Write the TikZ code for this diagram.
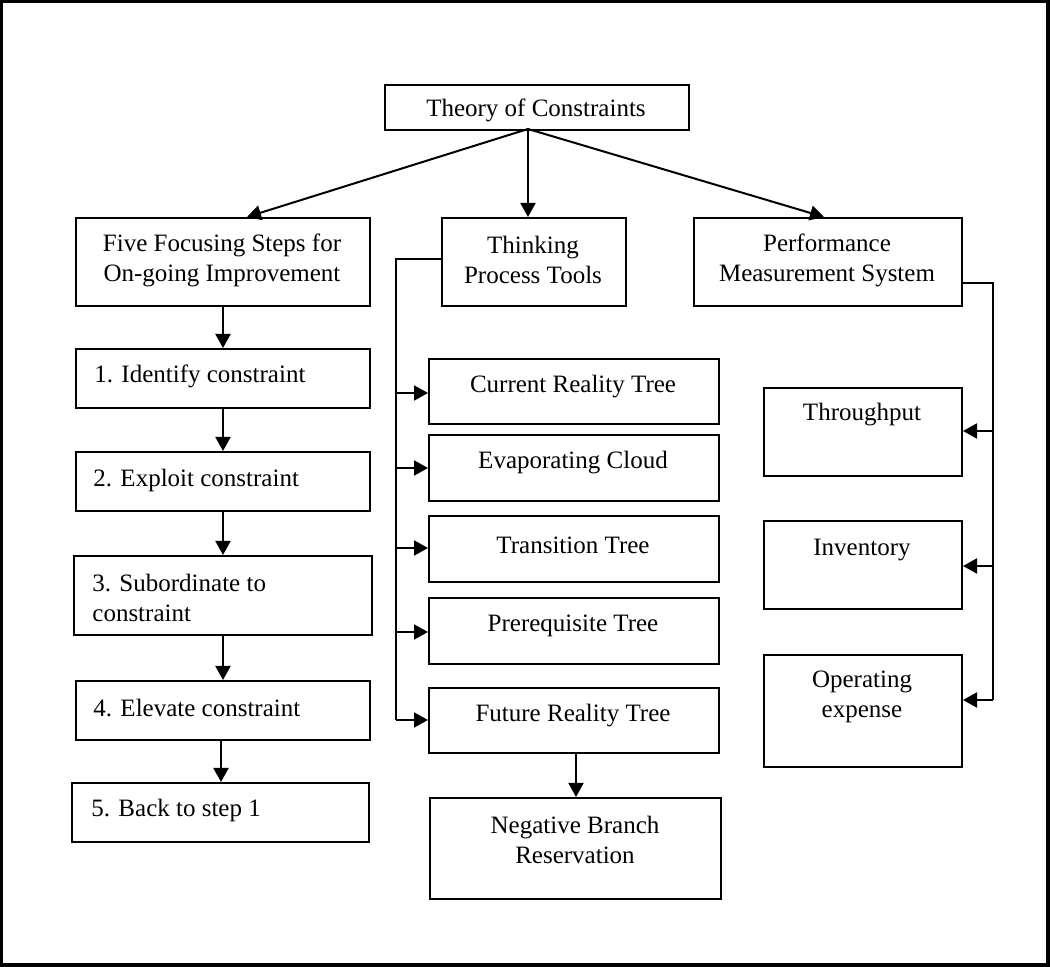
\documentclass[tikz,border=0pt]{standalone}
\usepackage{fontspec}
\setmainfont{Liberation Serif}
\usetikzlibrary{arrows.meta}

% a box given by its top-left and bottom-right corners (in pixel units)
\newcommand\pbox[5]{%
  \node[box, minimum width={0.5pt*(#4-#2)}, minimum height={0.5pt*(#5-#3)}] (#1) at (#2,#3) {};}

\begin{document}
\begin{tikzpicture}[
  x=0.5pt, y=-0.5pt,
  box/.style={draw, line width=1pt, inner sep=0pt, anchor=north west},
  txt/.style={inner sep=0pt, align=center, yshift=-1.5pt, font=\fontsize{12.5}{15}\selectfont},
  ltxt/.style={txt, align=left, anchor=west},
  conn/.style={line width=1pt},
  arr/.style={conn, -{Triangle[length=7pt, width=7.5pt]}},
]
\useasboundingbox (0,0) rectangle (1050,967);
\draw[line width=2pt] (1,1) rectangle (1048,965);

% top level
\pbox{root}{384}{84}{688}{129}
\node[txt] (root-t) at (536,107) {Theory of Constraints};

\pbox{five}{75}{217}{369}{305}
\node[txt] (five-t) at (222,257) {Five Focusing Steps for\\On-going Improvement};
\pbox{think}{441}{217}{625}{305}
\node[txt] (think-t) at (533,257) {Thinking\\Process Tools};
\pbox{perf}{693}{217}{961}{305}
\node[txt] (perf-t) at (827,257) {Performance\\Measurement System};

\coordinate (fork) at (528,129);
\coordinate (fiveIn) at (247,217);
\coordinate (perfIn) at (824,217);
\draw[arr] (fork) -- (fiveIn);
\draw[arr] (fork) -- (fork |- think.north);
\draw[arr] (fork) -- (perfIn);

% five focusing steps
\pbox{s1}{75}{348}{369}{407}
\node[ltxt] (s1-t) at (94,373) {1. Identify constraint};
\pbox{s2}{75}{451}{369}{510}
\node[ltxt] (s2-t) at (93,477) {2. Exploit constraint};
\pbox{s3}{73}{555}{371}{634}
\node[ltxt] (s3-t) at (92,595) {3. Subordinate to\\constraint};
\pbox{s4}{75}{680}{369}{739}
\node[ltxt] (s4-t) at (93,705) {4. Elevate constraint};
\pbox{s5}{71}{782}{368}{841}
\node[ltxt] (s5-t) at (91,807) {5. Back to step 1};

\coordinate (c1) at (223,0);
\draw[arr] (five.south -| c1) -- (s1.north -| c1);
\draw[arr] (s1.south -| c1) -- (s2.north -| c1);
\draw[arr] (s2.south -| c1) -- (s3.north -| c1);
\draw[arr] (s3.south -| c1) -- (s4.north -| c1);
\coordinate (c2) at (221,0);
\draw[arr] (s4.south -| c2) -- (s5.north -| c2);

% thinking process tools
\pbox{crt}{428}{358}{718}{423}
\node[txt] (crt-t) at (573,384) {Current Reality Tree};
\pbox{evc}{428}{434}{718}{500}
\node[txt] (evc-t) at (573,460) {Evaporating Cloud};
\pbox{trt}{428}{515}{718}{581}
\node[txt] (trt-t) at (573,542) {Transition Tree};
\pbox{pre}{428}{597}{718}{663}
\node[txt] (pre-t) at (573,623) {Prerequisite Tree};
\pbox{frt}{428}{687}{718}{752}
\node[txt] (frt-t) at (573,713) {Future Reality Tree};
\pbox{nbr}{429}{797}{720}{898}
\node[txt] (nbr-t) at (575,837) {Negative Branch\\Reservation};

\coordinate (tbus) at (396,259);
\coordinate (tend) at (396,720);
\draw[conn] (think.west |- tbus) -- (tbus) -- (tend);
\draw[arr] (tbus |- 0,393) -- (crt.west |- 0,393);
\draw[arr] (tbus |- 0,468) -- (evc.west |- 0,468);
\draw[arr] (tbus |- 0,548) -- (trt.west |- 0,548);
\draw[arr] (tbus |- 0,632) -- (pre.west |- 0,632);
\draw[arr] (tend) -- (frt.west |- tend);
\coordinate (c3) at (576,0);
\draw[arr] (frt.south -| c3) -- (nbr.north -| c3);

% performance measurement system
\pbox{thr}{763}{387}{961}{475}
\node[txt] (thr-t) at (862,412) {Throughput};
\pbox{inv}{763}{520}{961}{608}
\node[txt] (inv-t) at (862,547) {Inventory};
\pbox{ope}{763}{654}{961}{766}
\node[txt] (ope-t) at (862,694) {Operating\\expense};

\coordinate (pbus) at (993,283);
\coordinate (pend) at (993,700);
\draw[conn] (perf.east |- pbus) -- (pbus) -- (pend);
\draw[arr] (pbus |- 0,431) -- (thr.east |- 0,431);
\draw[arr] (pbus |- 0,566) -- (inv.east |- 0,566);
\draw[arr] (pend) -- (ope.east |- pend);
\end{tikzpicture}
\end{document}
